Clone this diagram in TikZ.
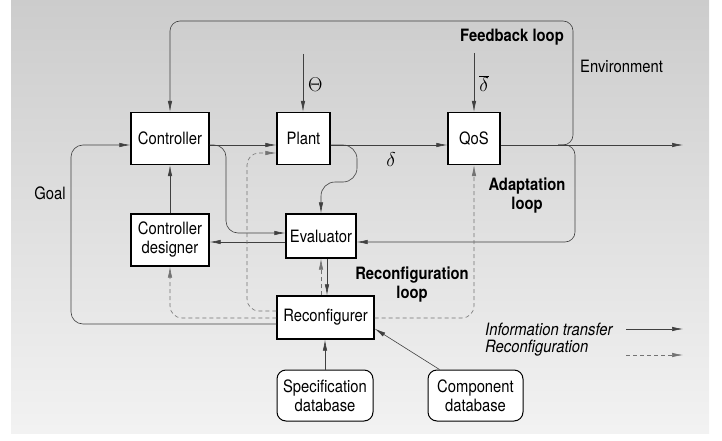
\RequirePackage{fix-cm}
\documentclass[tikz,border=0pt]{standalone}
\usepackage[no-math]{fontspec}
\setmainfont{TeX Gyre Heros}[FakeStretch=0.87]
\usetikzlibrary{arrows.meta}

\begin{document}
\begin{tikzpicture}[x=1pt, y=-1pt,
    tag/.style={inner sep=0pt, font=\fontsize{17}{19}\selectfont},
    symtag/.style={inner sep=0pt, font=\fontsize{20}{22}\selectfont},
    looptag/.style={tag, align=center, font=\fontsize{17}{19}\selectfont\bfseries},
    block/.style={tag, draw=black, line width=1.3pt, fill=white, align=center, minimum height=52pt},
    dbase/.style={block, rounded corners=9pt, line width=1pt},
    info/.style={draw=black!75, line width=0.6pt, -{Latex[length=11pt,width=4.5pt]}},
    recfg/.style={info, draw=black!55, dash pattern=on 4pt off 3pt}]

% background
    \useasboundingbox (0,0) rectangle (722,441);
    \shade[top color=black!20, bottom color=black!5] (11,0) rectangle (709,433);

% blocks
    \node[block, minimum width=78pt] (ctrl) at (170,138.5) {Controller};
    \node[block, minimum width=53pt] (plant) at (303.5,138.5) {Plant};
    \node[block, minimum width=52pt] (qos) at (474,138.5) {QoS};
    \node[block, minimum width=78pt] (cdes) at (170,240) {Controller\\designer};
    \node[block, minimum width=70pt, minimum height=44pt] (eval) at (321,236) {Evaluator};
    \node[block, minimum width=97pt, minimum height=43pt] (reconf) at (325.5,317.5) {Reconfigurer};
% databases
    \node[dbase, minimum width=96pt, minimum height=51pt] (spec) at (325,395.5) {Specification\\database};
    \node[dbase, minimum width=95pt, minimum height=51pt] (comp) at (475.5,395.5) {Component\\database};

% helper points
    \coordinate (mainy) at (0,145);
    \coordinate (out) at (683,145);
    \coordinate (split) at (558,145);
    \coordinate (fbtop) at (573,21);
    \coordinate (adbot) at (575,242);
    \coordinate (pe) at (357,182);
    \coordinate (ce) at (226,233);
    \coordinate (goal) at (71,324);
    \coordinate (pl) at (0,153);
    \coordinate (rc1) at (247,311);
    \coordinate (rc2) at (0,318);
    \coordinate (up) at (321,0);
    \coordinate (dn) at (327,0);
    \coordinate (th) at (303,54);
    \coordinate (db) at (474,53);

% main line
    \draw[info] (ctrl.east |- mainy) -- (plant.west |- mainy);
    \draw[info] (plant.east |- mainy) -- (qos.west |- mainy);
    \draw[info] (qos.east |- mainy) -- (out);
    \node[symtag] (dlt) at (391,160) {$\delta$};

% inputs
    \draw[info] (th) -- (plant.north -| th);
    \node[symtag, anchor=west] (thlbl) at (308,85) {$\Theta$};
    \draw[info] (db) -- (qos.north);
    \node[symtag] (dblbl) at (484,84) {$\overline{\delta}$};

% feedback loop
    \draw[info, rounded corners=10pt] (split) -| (fbtop) -| (ctrl.north);
% adaptation loop
    \draw[info, rounded corners=10pt] (split) -| (adbot) -- (eval.east |- adbot);

% evaluator
    \draw[info, rounded corners=14pt] (plant.east |- mainy) -| (pe) -| (eval.north);
    \draw[info, rounded corners=12pt] (ctrl.east |- mainy) -| (ce) -- (eval.west |- ce);
    \draw[info] (eval.west |- adbot) -- (cdes.east |- adbot);
    \draw[info] (cdes) -- (ctrl);
    \draw[info] (eval.south -| dn) -- (reconf.north -| dn);

% goal
    \draw[info, rounded corners=12pt] (reconf.west |- goal) -- (goal) |- (ctrl.west |- mainy);
    \node[tag] (goaltxt) at (50,193) {Goal};

% reconfiguration
    \draw[recfg, rounded corners=12pt] (reconf.west |- rc1) -- (rc1) |- (plant.west |- pl);
    \draw[recfg, rounded corners=12pt] (reconf.west |- rc2) -| (cdes.south);
    \draw[recfg, rounded corners=12pt] (reconf.east |- rc2) -| (qos.south);
    \draw[recfg] (reconf.north -| up) -- (eval.south -| up);

% databases
    \draw[info] (spec.north) -- (spec.north |- reconf.south);
    \draw[info] ([xshift=12pt]comp.north west) -- ([yshift=11pt]reconf.south east);

% loop names
    \node[looptag] (fbname) at (512,37) {Feedback loop};
    \node[looptag] (adname) at (527,196) {Adaptation\\loop};
    \node[looptag] (rcname) at (412,285) {Reconfiguration\\loop};
    \node[tag, anchor=west] (env) at (580,66) {Environment};

% legend
    \node[tag, anchor=west, font=\fontsize{17}{19}\selectfont\itshape] (lginfo) at (485,329) {Information transfer};
    \node[tag, anchor=west, font=\fontsize{17}{19}\selectfont\itshape] (lgrec) at (485,348) {Reconfiguration};
    \coordinate (lg1) at (626,329);
    \coordinate (lg2) at (626,355);
    \draw[info] (lg1) -- ++(57,0);
    \draw[recfg] (lg2) -- ++(57,0);

\end{tikzpicture}
\end{document}
